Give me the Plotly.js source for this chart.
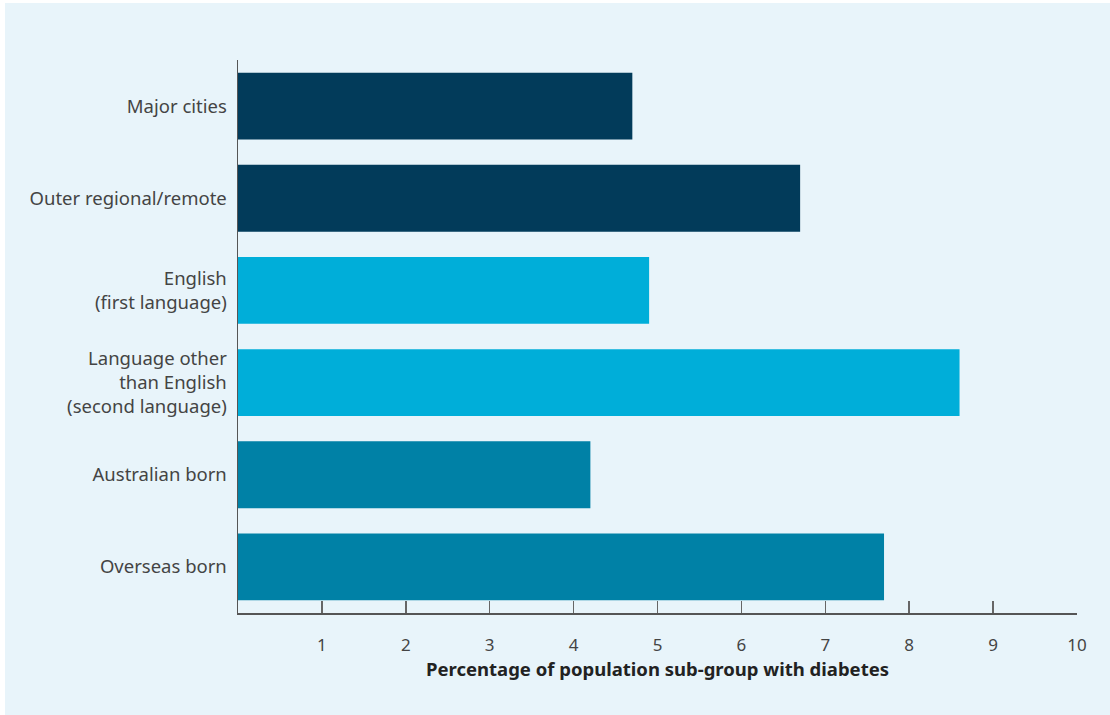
<!DOCTYPE html>
<html>
<head>
<meta charset="utf-8">
<script src="https://cdn.plot.ly/plotly-3.0.1.min.js"></script>
<style>
  html, body { margin: 0; padding: 0; background: #ffffff; }
  #chart { position: absolute; left: 5px; top: 3px; width: 1105px; height: 712px; }
</style>
</head>
<body>
<div id="chart"></div>
<script>
const categories = [
  "Major cities",
  "Outer regional/remote",
  "English<br>(first language)",
  "Language other<br>than English<br>(second language)",
  "Australian born",
  "Overseas born"
];
const values = [4.7, 6.7, 4.9, 8.6, 4.2, 7.7];
const barColors = ["#023b5a", "#023b5a", "#00aed9", "#00aed9", "#0081a6", "#0081a6"];
const xTickValues = [1, 2, 3, 4, 5, 6, 7, 8, 9, 10];
const xTitle = "Percentage of population sub-group with diabetes";

const trace = {
  type: "bar",
  orientation: "h",
  y: categories,
  x: values,
  marker: { color: barColors, line: { width: 0 } },
  hoverinfo: "x+y"
};

const layout = {
  width: 1105,
  height: 712,
  paper_bgcolor: "#e8f4fa",
  plot_bgcolor: "#e8f4fa",
  margin: { l: 233, r: 33, t: 57, b: 102 },
  bargap: 0.275,
  showlegend: false,
  font: { family: "Noto Sans, Open Sans, sans-serif", color: "#444", size: 18 },
  xaxis: {
    range: [0, 10],
    tickvals: xTickValues,
    ticktext: xTickValues.map(String),
    ticks: "inside",
    ticklen: 12,
    tickwidth: 1.5,
    tickcolor: "#666",
    showgrid: false,
    zeroline: false,
    showline: true,
    linecolor: "#555",
    linewidth: 1.5,
    tickfont: { size: 17, color: "#444" },
    ticklabelstandoff: 16,
    title: { text: "<b>" + xTitle + "</b>", font: { size: 18.5, color: "#222" }, standoff: 6 },
    fixedrange: true
  },
  yaxis: {
    autorange: "reversed",
    showline: true,
    linecolor: "#555",
    linewidth: 1.5,
    ticks: "",
    showgrid: false,
    zeroline: false,
    tickfont: { size: 18.5, color: "#444" },
    ticklabelstandoff: 6,
    fixedrange: true
  }
};

Plotly.newPlot("chart", [trace], layout, { displayModeBar: false, staticPlot: true });
</script>
</body>
</html>
